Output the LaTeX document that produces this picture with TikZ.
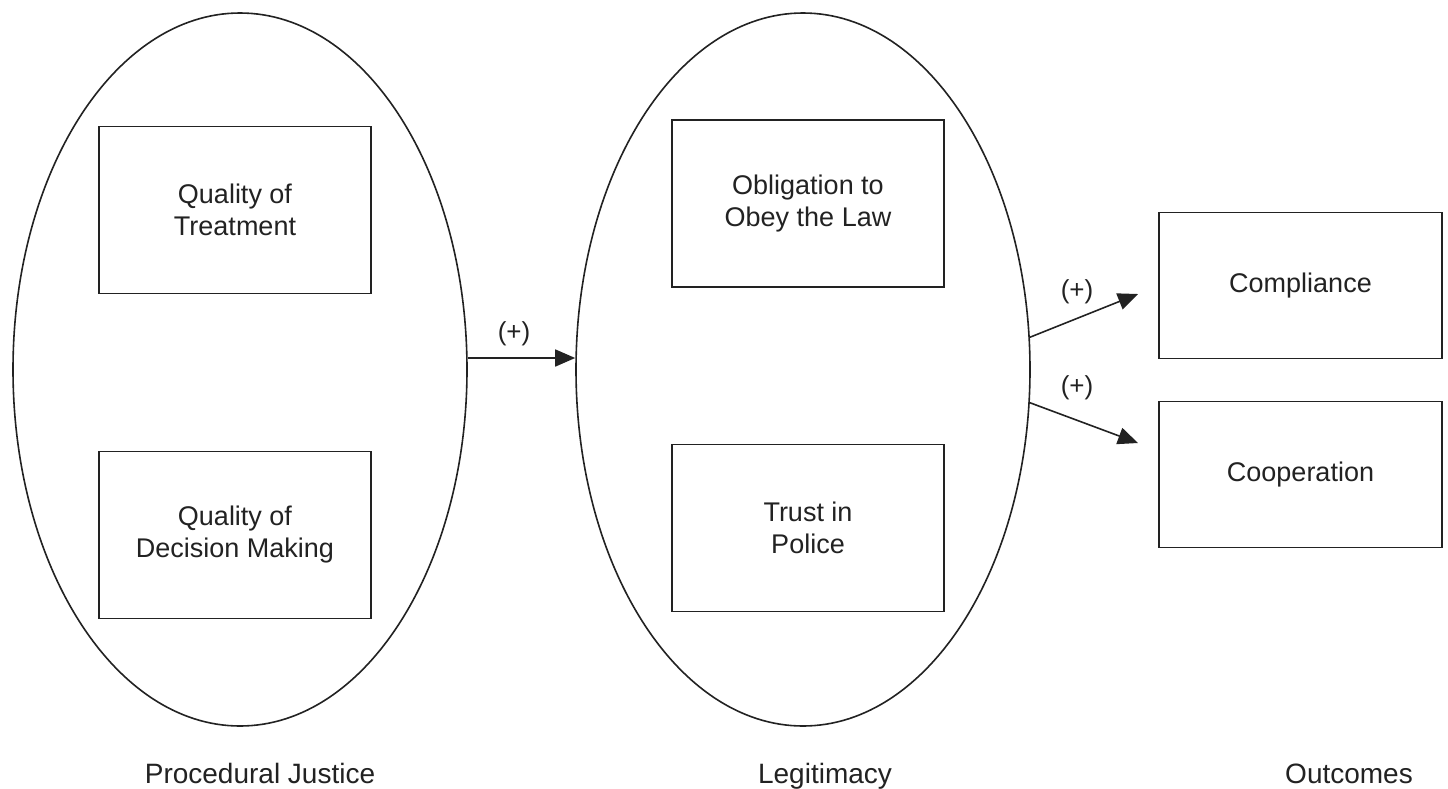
\documentclass[tikz,border=0pt]{standalone}
\usepackage{fontspec}
\setmainfont{Liberation Sans}
\usetikzlibrary{shapes.geometric,arrows.meta}
\definecolor{ink}{HTML}{222222}
\begin{document}
\begin{tikzpicture}[x=1pt,y=-1pt,
  ell/.style={draw=ink,line width=1.6pt,ellipse,inner sep=0pt,minimum width=454pt,minimum height=713pt},
  boxa/.style={draw=ink,line width=1.7pt,rectangle,inner sep=0pt,minimum width=272pt,minimum height=167pt,align=center,font=\fontsize{27}{32}\selectfont,text=ink},
  boxb/.style={boxa,minimum width=283pt,minimum height=146pt},
  plus/.style={font=\fontsize{26}{30}\selectfont,text=ink,inner sep=0pt},
  grouplabel/.style={font=\fontsize{28}{32}\selectfont,text=ink,inner sep=0pt,anchor=base},
  arr/.style={draw=ink,line width=1.6pt,-{Triangle[length=20pt,width=17pt]}}]
\useasboundingbox (0,0) rectangle (1448,788);
\fill[white] (0,0) rectangle (1448,788);
% ellipses
\node[ell] (pj) at (240,369.5) {};
\node[ell] (lg) at (803,369.5) {};
% boxes
\node[boxa] (qt) at (235,210) {Quality of\\Treatment};
\node[boxa] (qd) at (235,535) {Quality of\\Decision Making};
\node[boxa] (ob) at (808,203.5) {Obligation to\\Obey the Law};
\node[boxa] (tp) at (808,528) {Trust in\\Police};
\node[boxb] (cm) at (1300.5,285.5) {Compliance};
\node[boxb] (co) at (1300.5,474.5) {Cooperation};
% arrow tips
\coordinate (t1) at (1138,294);
\coordinate (t2) at (1138,443);
% connectors
\draw[arr] ([yshift=11.5pt]pj.east) -- ([yshift=11.5pt]lg.west);
\draw[arr] ([yshift=32pt,xshift=-1.5pt]lg.east) -- (t1);
\draw[arr] ([yshift=-33pt,xshift=-1.5pt]lg.east) -- (t2);
% labels
\node[plus] (p1) at (514,334) {(+)};
\node[plus] (p2) at (1077,292) {(+)};
\node[plus] (p3) at (1077,388) {(+)};
\node[grouplabel] (lpj) at (260,783) {Procedural Justice};
\node[grouplabel] (llg) at (825,783) {Legitimacy};
\node[grouplabel] (lout) at (1349,783) {Outcomes};
\end{tikzpicture}
\end{document}
